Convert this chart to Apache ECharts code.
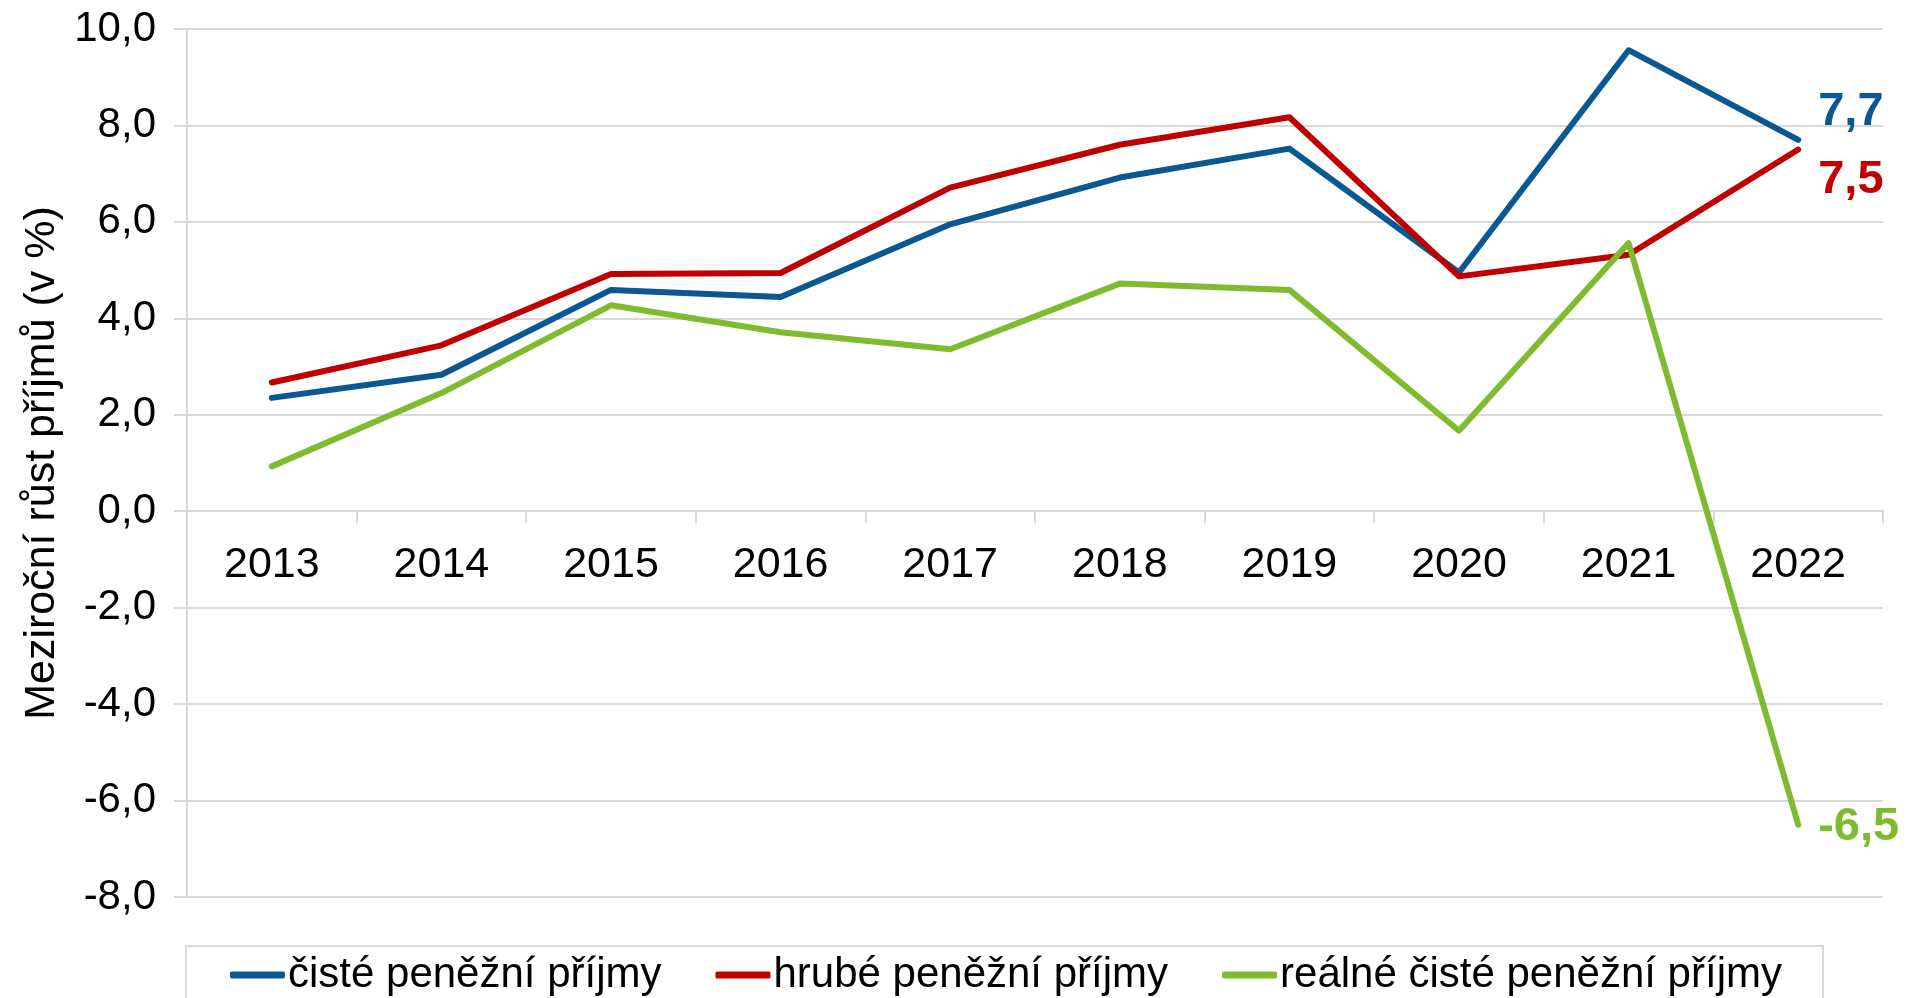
<!DOCTYPE html>
<html>
<head>
<meta charset="utf-8">
<script src="https://cdn.jsdelivr.net/npm/echarts@6/dist/echarts.min.js"></script>
<style>
html,body{margin:0;padding:0;background:#fff;}
#chart{width:1906px;height:998px;}
</style>
</head>
<body>
<div id="chart"></div>
<script>
const categories = ['2013','2014','2015','2016','2017','2018','2019','2020','2021','2022'];
const cisteValues  = [2.35, 2.83, 4.59, 4.44, 5.95, 6.92, 7.52, 4.95, 9.56, 7.7];
const hrubeValues  = [2.67, 3.44, 4.92, 4.94, 6.71, 7.60, 8.17, 4.87, 5.32, 7.5];
const realneValues = [0.93, 2.45, 4.27, 3.71, 3.36, 4.72, 4.59, 1.67, 5.56, -6.5];
const seriesNames = ['čisté peněžní příjmy', 'hrubé peněžní příjmy', 'reálné čisté peněžní příjmy'];
const yTitle = 'Meziroční růst příjmů (v %)';
const yMin = -8, yMax = 10, yStep = 2;

const FONT = "'Liberation Sans', Arial, sans-serif";
const colors = ['#0A5891', '#C00000', '#7FBB2E'];
const endOffsets = [[0,-28],[0,30],[0,2]];
const fmt = v => v.toFixed(1).replace('.', ',');

const W = 1906, H = 998;
const gridTop = 29, gridBottom = 101;
const plotH = H - gridTop - gridBottom;
// place the category axis at value 0 of the value scale
const zeroOffset = -plotH * (0 - yMin) / (yMax - yMin);

function mkSeries(name, data, i){
  return {
    name: name, type: 'line', data: data,
    symbol: 'none', showSymbol: false,
    lineStyle: {color: colors[i], width: 6, cap: 'round', join: 'round'},
    itemStyle: {color: colors[i]},
    endLabel: {
      show: true, distance: 20, offset: endOffsets[i],
      formatter: p => fmt(p.value),
      color: colors[i], fontFamily: FONT, fontSize: 47, fontWeight: 'bold'
    }
  };
}

const chart = echarts.init(document.getElementById('chart'), null, {renderer:'canvas'});
chart.setOption({
  animation: false,
  backgroundColor: '#fff',
  grid: {left: 187, right: 23, top: gridTop, bottom: gridBottom, containLabel: false},
  legend: {
    top: 946, left: 186,
    data: seriesNames,
    icon: 'roundRect', itemWidth: 55, itemHeight: 7, itemGap: 54,
    padding: [8, 41, 30, 44],
    borderColor: '#d9d9d9', borderWidth: 2,
    textStyle: {fontFamily: FONT, fontSize: 42, color: '#000', padding: [0,0,0,-2]}
  },
  xAxis: {
    type: 'category', data: categories, boundaryGap: true,
    offset: zeroOffset,
    axisLine: {onZero: false, lineStyle: {color: '#d9d9d9', width: 2}},
    axisTick: {show: true, length: 12, lineStyle: {color: '#d9d9d9', width: 2}},
    axisLabel: {margin: 32, fontFamily: FONT, fontSize: 43, color: '#000'},
    splitLine: {show: false}
  },
  yAxis: {
    type: 'value', min: yMin, max: yMax, interval: yStep,
    name: yTitle, nameLocation: 'middle', nameRotate: 90, nameGap: 123,
    nameTextStyle: {fontFamily: FONT, fontSize: 43, color: '#000'},
    axisLine: {show: true, lineStyle: {color: '#d9d9d9', width: 2}},
    axisTick: {show: true, length: 13, lineStyle: {color: '#d9d9d9', width: 2}},
    axisLabel: {margin: 31, fontFamily: FONT, fontSize: 42, color: '#000', formatter: v => fmt(v)},
    splitLine: {show: true, lineStyle: {color: '#d9d9d9', width: 2}}
  },
  series: [
    mkSeries(seriesNames[0], cisteValues, 0),
    mkSeries(seriesNames[1], hrubeValues, 1),
    mkSeries(seriesNames[2], realneValues, 2)
  ]
});
</script>
</body>
</html>
